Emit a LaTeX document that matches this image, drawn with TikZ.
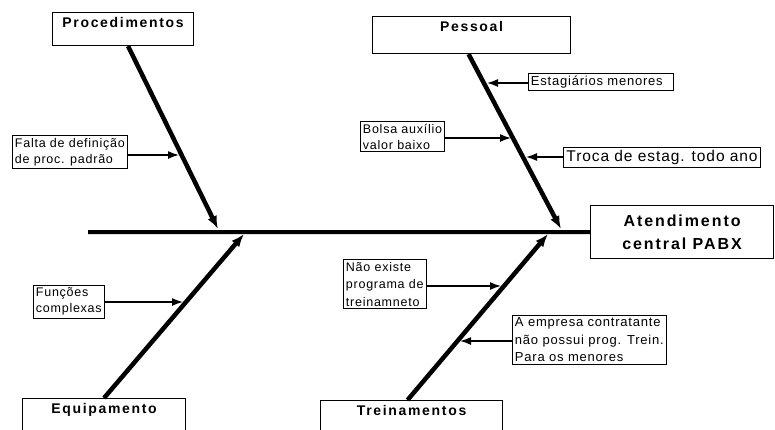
\documentclass[tikz,border=0pt]{standalone}
\usepackage{fontspec}
\setmainfont{Liberation Sans}
\newfontfamily\widefont[LetterSpace=12]{Liberation Sans}
\newfontfamily\loosefont[LetterSpace=6]{Liberation Sans}
\usetikzlibrary{arrows.meta}

\begin{document}
\begin{tikzpicture}[x=1pt,y=-1pt,
  cause/.style={draw,line width=1.1pt,anchor=north west,inner xsep=4pt,inner ysep=4pt,
    text height=11pt,font=\widefont\bfseries\fontsize{14}{15}\selectfont},
  note/.style={draw,line width=0.9pt,anchor=north west,align=left,inner sep=2.5pt,
    font=\loosefont\fontsize{12.5}{16}\selectfont},
  bone/.style={line width=4.5pt,-{Latex[length=13pt,width=10pt]}},
  hint/.style={line width=1.5pt,-{Latex[length=11pt,width=8pt]}}]
  \useasboundingbox (0,0) rectangle (775,429);

  % head of the fish
  \node[draw,line width=1.1pt,anchor=north west,minimum width=183pt,minimum height=53pt,
    align=center,font=\widefont\bfseries\fontsize{16}{23}\selectfont]
    (effect) at (590,205) {Atendimento\\central PABX};
  \coordinate (tail) at (88,232);
  \draw[line width=4pt] (tail) -- (effect.west);

  % main causes
  \node[cause,minimum width=141pt,text depth=14pt] (proc) at (52,12) {Procedimentos};
  \node[cause,minimum width=198pt,text depth=18pt] (pess) at (372,16) {Pessoal};
  \node[cause,minimum width=163pt,text depth=30pt] (equip) at (22,398) {Equipamento};
  \node[cause,minimum width=182pt,text depth=30pt] (trein) at (320,400) {Treinamentos};

  \coordinate (p1) at (218,229);
  \coordinate (p2) at (561,229);
  \coordinate (e1) at (244,234);
  \coordinate (t1) at (548,234);

  \draw[bone] ([xshift=5pt]proc.south) -- (p1);
  \draw[bone] ([xshift=-3pt]pess.south) -- (p2);
  \draw[bone] (equip.north) -- (e1);
  \draw[bone] ([xshift=-4pt]trein.north) -- (t1);

  % secondary causes
  \node[note] (falta) at (12,135) {Falta de definição\\de proc. padrão};
  \node[note,font=\loosefont\fontsize{13}{16}\selectfont] (estag) at (528,73) {Estagiários menores\hspace{8pt}};
  \node[note] (bolsa) at (360,121) {Bolsa auxílio\\valor baixo};
  \node[note,inner sep=3pt,font=\loosefont\fontsize{15.5}{18}\selectfont] (troca) at (563,147) {Troca de estag. todo ano};
  \node[note] (func) at (33,285) {Funções\\complexas};
  \node[note,font=\loosefont\fontsize{12.5}{17.5}\selectfont] (naoex) at (343,259) {Não existe\\programa de\\treinamneto};
  \node[note,font=\loosefont\fontsize{13}{17.5}\selectfont] (empresa) at (512,315) {A empresa contratante\\não possui prog. Trein.\\Para os menores};

  \coordinate (c1) at (179,155);
  \coordinate (c2) at (487,83);
  \coordinate (c3) at (511,138);
  \coordinate (c4) at (526,157);
  \coordinate (c5) at (183,302);
  \coordinate (c6) at (501,286);
  \coordinate (c7) at (460,341);

  \draw[hint] (falta.east |- c1) -- (c1);
  \draw[hint] (estag.west |- c2) -- (c2);
  \draw[hint] (bolsa.east |- c3) -- (c3);
  \draw[hint] (troca.west |- c4) -- (c4);
  \draw[hint] (func.east |- c5) -- (c5);
  \draw[hint] (naoex.east |- c6) -- (c6);
  \draw[hint] (empresa.west |- c7) -- (c7);
\end{tikzpicture}
\end{document}
